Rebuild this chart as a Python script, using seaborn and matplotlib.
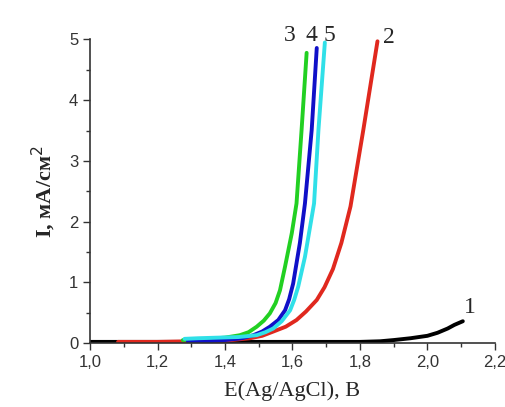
import numpy as np
import pandas as pd
import matplotlib
matplotlib.use('Agg')
import matplotlib.pyplot as plt
import seaborn as sns
from matplotlib.ticker import MultipleLocator, FuncFormatter

# ── Данные ──
e1 = [1.00, 1.20, 1.40, 1.60, 1.80, 1.86, 1.90, 1.95, 2.00, 2.03, 2.06, 2.08, 2.105]
i1 = [0.02, 0.02, 0.02, 0.02, 0.02, 0.03, 0.05, 0.08, 0.12, 0.17, 0.24, 0.30, 0.36]

e2 = [1.083, 1.20, 1.30, 1.40, 1.474, 1.51, 1.543, 1.58, 1.612, 1.64, 1.672, 1.695, 1.72, 1.745, 1.772, 1.81, 1.852]
i2 = [0.02, 0.02, 0.03, 0.04, 0.08, 0.12, 0.19, 0.27, 0.38, 0.52, 0.71, 0.92, 1.22, 1.65, 2.25, 3.51, 4.97]

e3 = [1.275, 1.30, 1.35, 1.40, 1.444, 1.47, 1.494, 1.515, 1.533, 1.55, 1.563, 1.578, 1.598, 1.612, 1.627, 1.642]
i3 = [0.05, 0.06, 0.07, 0.09, 0.13, 0.18, 0.27, 0.37, 0.49, 0.66, 0.87, 1.26, 1.81, 2.30, 3.51, 4.78]

e4 = [1.29, 1.35, 1.40, 1.45, 1.484, 1.51, 1.533, 1.558, 1.578, 1.59, 1.602, 1.622, 1.637, 1.657, 1.672]
i4 = [0.03, 0.03, 0.05, 0.08, 0.13, 0.19, 0.27, 0.38, 0.54, 0.72, 0.98, 1.65, 2.30, 3.51, 4.86]

e5 = [1.28, 1.32, 1.38, 1.44, 1.494, 1.52, 1.543, 1.568, 1.593, 1.605, 1.617, 1.637, 1.664, 1.677, 1.696]
i5 = [0.07, 0.08, 0.09, 0.10, 0.13, 0.18, 0.24, 0.36, 0.54, 0.71, 0.93, 1.42, 2.30, 3.51, 4.95]

curve_labels = ['1', '2', '3', '4', '5']
colors = ['#000000', '#e0281e', '#22d022', '#1010c8', '#30e0e8']

frames = []
for lab, e, i in zip(curve_labels, [e1, e2, e3, e4, e5], [i1, i2, i3, i4, i5]):
    frames.append(pd.DataFrame({'E': e, 'I': i, 'curve': lab}))
df = pd.concat(frames, ignore_index=True)

sns.set_style('ticks')

fig = plt.figure(figsize=(5.06, 4.07), dpi=100)
ax = fig.add_axes([0.178, 0.157, 0.80, 0.746])

sns.lineplot(data=df, x='E', y='I', hue='curve', palette=colors, sort=False,
             linewidth=2.8, legend=False, ax=ax, estimator=None)

ax.set_xlim(1.0, 2.2)
ax.set_ylim(0, 5)
ax.xaxis.set_major_locator(MultipleLocator(0.2))
ax.xaxis.set_minor_locator(MultipleLocator(0.1))
ax.yaxis.set_major_locator(MultipleLocator(1))
ax.yaxis.set_minor_locator(MultipleLocator(0.5))
ax.xaxis.set_major_formatter(FuncFormatter(lambda v, p: f'{v:.1f}'.replace('.', ',')))
ax.yaxis.set_major_formatter(FuncFormatter(lambda v, p: f'{v:.0f}'))

sans = ['Liberation Sans', 'DejaVu Sans']
serif = ['Liberation Serif', 'DejaVu Serif']
for t in ax.get_xticklabels() + ax.get_yticklabels():
    t.set_fontfamily(sans)
    t.set_fontsize(12)
    t.set_color('#333333')

ax.tick_params(which='major', direction='out', length=5, width=1, color='#333333')
ax.tick_params(which='minor', direction='out', length=3, width=1, color='#333333')
for s in ['left', 'bottom']:
    ax.spines[s].set_color('#333333')
    ax.spines[s].set_linewidth(1.2)
sns.despine(ax=ax)

ax.set_xlabel('E(Ag/AgCl), B', fontsize=16, family=serif, labelpad=8)
ax.set_ylabel('I, мА/см$^2$', fontsize=16, family=serif, fontweight='bold', labelpad=8)

# подписи кривых
txt = dict(fontsize=17, family=serif, ha='center', va='center', clip_on=False)
ax.text(1.593, 5.06, '3', **txt)
ax.text(1.655, 5.06, '4', **txt)
ax.text(1.711, 5.06, '5', **txt)
ax.text(1.886, 5.04, '2', **txt)
ax.text(2.125, 0.58, '1', **txt)

plt.savefig('out.png', dpi=100)
